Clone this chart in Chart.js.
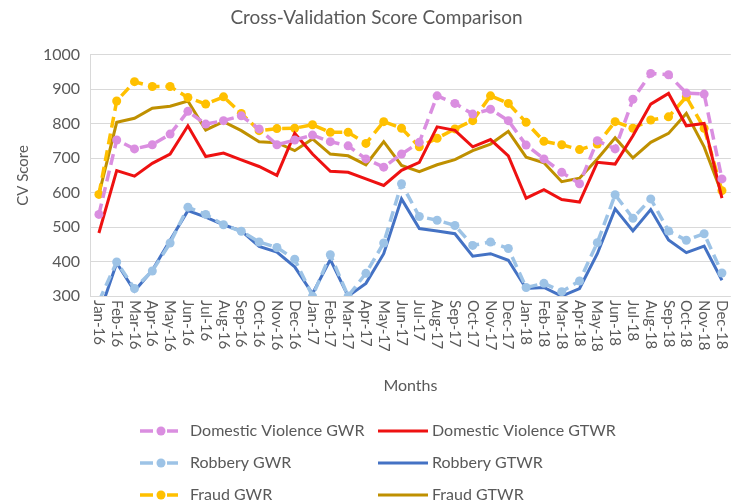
<!DOCTYPE html>
<html>
<head>
<meta charset="utf-8">
<script src="https://cdn.jsdelivr.net/npm/chart.js@4"></script>
<style>
  html, body { margin: 0; padding: 0; background: #fff; }
  #wrap { width: 743px; height: 501px; position: relative; }
</style>
</head>
<body>
<div id="wrap"><canvas id="cvchart" width="743" height="501"></canvas></div>
<script>
const months = ['Jan-16','Feb-16','Mar-16','Apr-16','May-16','Jun-16','Jul-16','Aug-16','Sep-16','Oct-16','Nov-16','Dec-16',
  'Jan-17','Feb-17','Mar-17','Apr-17','May-17','Jun-17','Jul-17','Aug-17','Sep-17','Oct-17','Nov-17','Dec-17',
  'Jan-18','Feb-18','Mar-18','Apr-18','May-18','Jun-18','Jul-18','Aug-18','Sep-18','Oct-18','Nov-18','Dec-18'];

const dvGWR = [537,753,727,739,770,836,799,809,823,785,739,753, 767,748,736,698,674,712,746,881,859,828,842,809, 738,698,659,626,751,727,871,946,942,889,886,640];
const dvGTWR = [483,664,648,685,712,794,705,715,695,676,650,772, 712,662,659,640,621,665,688,791,781,733,754,707, 584,609,580,573,688,683,765,857,888,794,801,584];
const robGWR = [285,399,322,373,454,558,537,507,488,457,441,407, 300,420,300,366,454,626,531,520,505,447,457,438, 325,337,313,344,455,594,526,582,489,462,481,367];
const robGTWR = [245,396,315,375,462,548,529,507,489,444,428,385, 307,406,300,337,423,582,496,489,481,416,423,404, 322,325,300,322,423,553,489,551,463,426,445,346];
const fraudGWR = [595,866,922,908,908,876,857,878,830,780,786,787, 797,775,775,743,806,787,733,758,785,809,881,859, 804,749,739,725,741,806,787,811,820,878,787,606];
const fraudGTWR = [595,804,816,845,851,866,782,806,780,748,745,722, 756,712,707,681,748,679,661,681,696,722,741,778, 703,687,632,642,698,759,701,746,772,830,733,597];

const yTicks = [300,400,500,600,700,800,900,1000];

const FONT = 'Lato';
const GREY = '#595959';

function gwr(label, data, color) {
  return {
    label: label, data: data, borderColor: color, backgroundColor: color,
    borderWidth: 3.5, borderDash: [11, 6], pointRadius: 4.5, pointHoverRadius: 4.5,
    pointBorderWidth: 0, tension: 0, gwr: true
  };
}
function gtwr(label, data, color) {
  return {
    label: label, data: data, borderColor: color, backgroundColor: color,
    borderWidth: 3, pointRadius: 0, tension: 0, gwr: false
  };
}

// draws the month labels top-to-bottom and the two-column legend
const extras = {
  id: 'extras',
  afterDraw(chart) {
    const ctx = chart.ctx;
    const xs = chart.scales.x;
    ctx.save();
    ctx.fillStyle = GREY;
    ctx.font = '15px ' + FONT;
    ctx.textAlign = 'left';
    ctx.textBaseline = 'middle';
    months.forEach((m, i) => {
      const px = xs.getPixelForValue(i);
      ctx.save();
      ctx.translate(px, chart.chartArea.bottom + 4);
      ctx.rotate(Math.PI / 2);
      ctx.fillText(m, 0, 0);
      ctx.restore();
    });
    ctx.restore();

    const ds = chart.data.datasets;
    const cols = [140, 378];
    const rows = [431, 463, 495];
    ctx.save();
    ctx.font = '16px ' + FONT;
    ctx.textBaseline = 'middle';
    ds.forEach((d, i) => {
      const x = cols[i % 2];
      const y = rows[Math.floor(i / 2)];
      ctx.strokeStyle = d.borderColor;
      ctx.fillStyle = d.borderColor;
      ctx.lineWidth = d.borderWidth;
      if (d.gwr) {
        ctx.beginPath();
        ctx.moveTo(x, y); ctx.lineTo(x + 13, y);
        ctx.moveTo(x + 27, y); ctx.lineTo(x + 38, y);
        ctx.stroke();
        ctx.beginPath();
        ctx.arc(x + 21, y, 4.5, 0, Math.PI * 2);
        ctx.fill();
        ctx.fillStyle = GREY;
        ctx.fillText(d.label, x + 50, y);
      } else {
        ctx.beginPath();
        ctx.moveTo(x, y); ctx.lineTo(x + 50, y);
        ctx.stroke();
        ctx.fillStyle = GREY;
        ctx.fillText(d.label, x + 54, y);
      }
    });
    ctx.restore();
  }
};

const data = {
  labels: months,
  datasets: [
    gwr('Domestic Violence GWR', dvGWR, '#DA8EE0'),
    gtwr('Domestic Violence GTWR', dvGTWR, '#EE1111'),
    gwr('Robbery GWR', robGWR, '#9DC3E6'),
    gtwr('Robbery GTWR', robGTWR, '#4472C4'),
    gwr('Fraud GWR', fraudGWR, '#FFC000'),
    gtwr('Fraud GTWR', fraudGTWR, '#BF9000')
  ]
};

const config = {
  type: 'line',
  data: data,
  options: {
    responsive: false,
    devicePixelRatio: 1,
    animation: false,
    layout: { padding: { left: 10, right: 0, top: 0, bottom: 106 } },
    plugins: {
      legend: { display: false },
      tooltip: { enabled: false },
      title: {
        display: true,
        text: 'Cross-Validation Score Comparison',
        color: GREY,
        font: { family: FONT, size: 19, weight: 'normal' },
        padding: { top: 6, bottom: 26 }
      }
    },
    scales: {
      x: {
        offset: true,
        grid: { display: false },
        border: { display: false },
        ticks: { autoSkip: false, minRotation: 90, maxRotation: 90, color: 'rgba(0,0,0,0)', font: { family: FONT, size: 15 } },
        title: { display: true, text: 'Months', color: GREY, font: { family: FONT, size: 16 }, padding: { top: 14, bottom: 0 } }
      },
      y: {
        min: 300, max: 1000,
        afterFit(scale) { scale.width = 80; },
        afterBuildTicks(scale) { scale.ticks = yTicks.map(v => ({ value: v })); },
        grid: { color: '#D9D9D9', lineWidth: 1, drawTicks: false },
        border: { display: true, color: '#D9D9D9' },
        ticks: { color: GREY, padding: 10, font: { family: FONT, size: 16 }, callback: v => String(v) },
        title: { display: true, text: 'CV Score', color: GREY, font: { family: FONT, size: 15 } }
      }
    }
  },
  plugins: [extras]
};

const ctx = document.getElementById('cvchart').getContext('2d');
const chart = new Chart(ctx, config);
</script>
</body>
</html>
